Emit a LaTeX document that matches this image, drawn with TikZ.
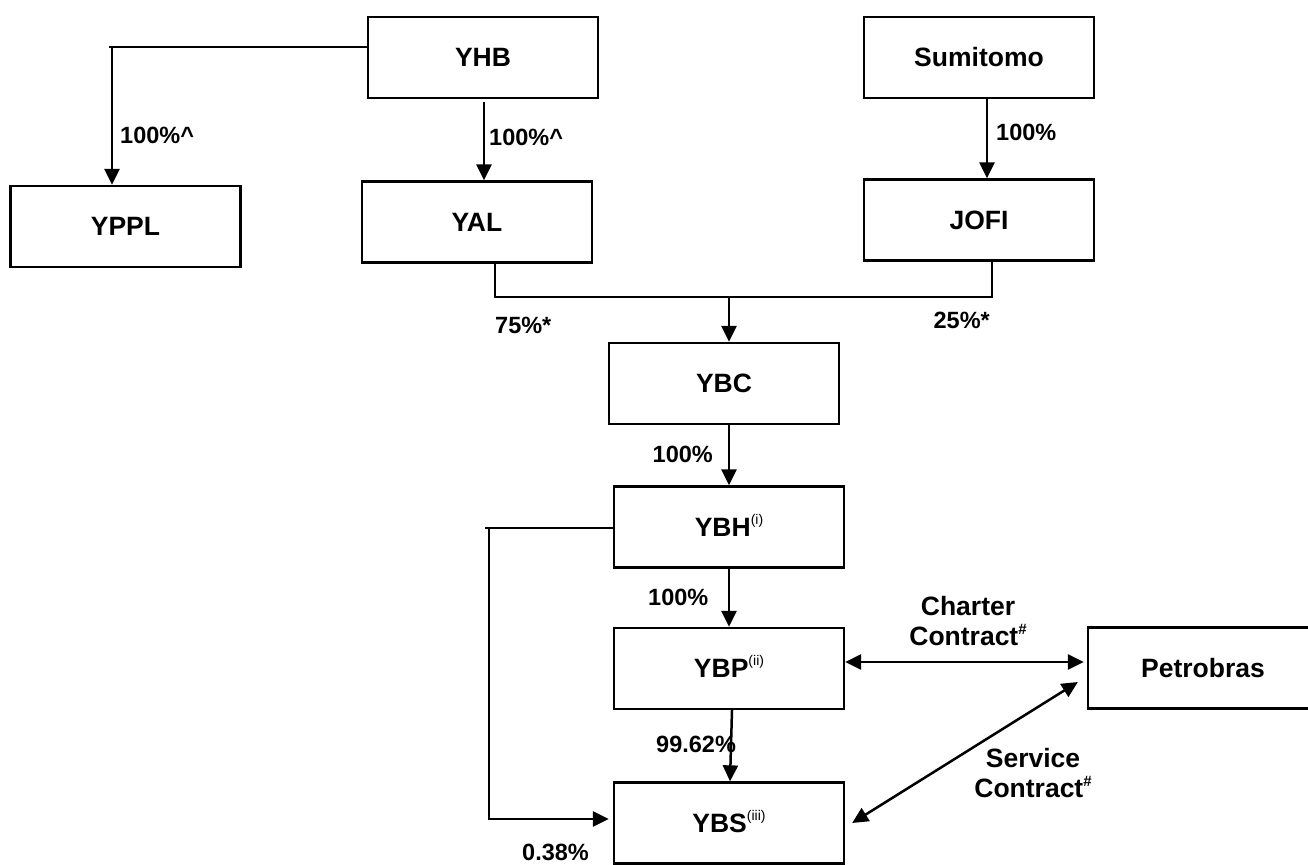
\documentclass[tikz,border=0pt]{standalone}
\usepackage{fontspec}
\setmainfont{Liberation Sans}
\usetikzlibrary{arrows.meta,calc}
\newcommand\supsm[1]{\smash{\raisebox{12pt}{\fontsize{14}{14}\selectfont\mdseries #1}}}
\newcommand\hsh{\smash{\raisebox{11pt}{\fontsize{15}{15}\selectfont\bfseries\#}}}
\begin{document}
\begin{tikzpicture}[x=1pt,y=-1pt,
  box/.style={draw, line width=2.3pt, minimum width=230pt, minimum height=81pt, inner sep=0pt,
    font=\fontsize{26.5}{30}\selectfont\bfseries},
  lab/.style={font=\fontsize{23.5}{28}\selectfont\bfseries, inner sep=0pt},
  clab/.style={font=\fontsize{26.5}{30.5}\selectfont\bfseries, align=center, inner sep=0pt},
  tip/.tip={Triangle[length=16pt,width=15pt]},
  arr/.style={line width=2.5pt, -tip},
  darr/.style={line width=2.5pt, tip-tip},
  ln/.style={line width=2pt}]
\clip (0,0) rectangle (1308,864);
\fill[white] (0,0) rectangle (1308,864);
% boxes
\node[box] (YHB) at (483,57.5) {YHB};
\node[box] (SUM) at (979,57.5) {Sumitomo};
\node[box] (YPPL) at (125.5,226.5) {YPPL};
\node[box] (YAL) at (477,222) {YAL};
\node[box] (JOFI) at (979,220) {JOFI};
\node[box] (YBC) at (724,383.5) {YBC};
\node[box] (YBH) at (729,527) {YBH\supsm{(i)}};
\node[box] (YBP) at (729,668.5) {YBP\supsm{(ii)}};
\node[box] (YBS) at (729,823) {YBS\supsm{(iii)}};
\node[box] (PET) at (1203,668) {Petrobras};
% coordinates
\coordinate (c1) at (112,47);
\coordinate (a1) at (484,102);
\coordinate (a2) at (987,98);
\coordinate (m1) at (495,297);
\coordinate (m2) at (992,297);
\coordinate (m0) at (729,297);
\coordinate (l1) at (489,528);
\coordinate (l2) at (489,819);
\coordinate (ch) at (900,662);
% connectors
\draw[ln] (YHB.west |- c1) -- ([xshift=-3pt]c1);
\draw[arr] (c1) -- (YPPL.north -| c1);
\draw[arr] (a1) -- (a1 |- YAL.north);
\draw[arr] (a2 |- SUM.south) -- (a2 |- JOFI.north);
\draw[ln] (m1 |- YAL.south) -- (m1) -- (m2) -- (m2 |- JOFI.south);
\draw[arr] (m0) -- (YBC.north -| m0);
\draw[arr] (YBC.south -| m0) -- (YBH.north -| m0);
\draw[arr] (YBH.south) -- (YBP.north);
\draw[arr] ([xshift=3pt]YBP.south) -- ([xshift=1pt]YBS.north);
\draw[ln] (YBH.west |- l1) -- ([xshift=-4pt]l1);
\draw[arr] (l1) -- (l2) -- ([xshift=-4pt]YBS.west |- l2);
\draw[darr] (YBP.east |- ch) -- ([xshift=-3pt]PET.west |- ch);
\draw[darr] ([xshift=7pt]YBS.east) -- ([shift={(-9pt,-14pt)}]PET.west);
% labels
\node[lab, anchor=west] (t1) at (120,135) {100\%\textasciicircum};
\node[lab, anchor=west] (t2) at (489,137) {100\%\textasciicircum};
\node[lab, anchor=west] (t3) at (996,132) {100\%};
\node[lab, anchor=west] (t4) at (495,325) {75\%*};
\node[lab, anchor=east] (t5) at (990,320) {25\%*};
\node[lab, anchor=east] (t6) at (713,454) {100\%};
\node[lab, anchor=west] (t7) at (648,597) {100\%};
\node[lab, anchor=west] (t8) at (656,744) {99.62\%};
\node[lab, anchor=west] (t9) at (522,852) {0.38\%};
\node[clab] (t10) at (968,621) {Charter\\Contract\hsh};
\node[clab] (t11) at (1033,773) {Service\\Contract\hsh};
\end{tikzpicture}
\end{document}
